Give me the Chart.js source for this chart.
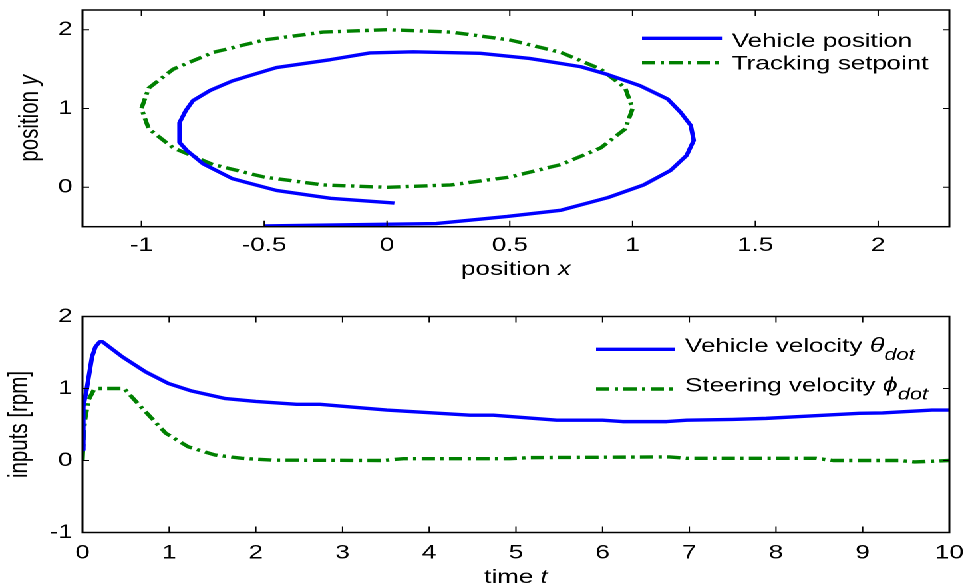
<!DOCTYPE html>
<html>
<head>
<meta charset="utf-8">
<script src="https://cdn.jsdelivr.net/npm/chart.js@4.4.1/dist/chart.umd.min.js"></script>
<style>
  html, body { margin: 0; padding: 0; background: #ffffff; width: 966px; height: 588px; overflow: hidden; }
  #wrap { position: absolute; left: 0; top: 0; width: 726px; height: 588px; transform: scaleX(1.330579); transform-origin: 0 0; }
  canvas { display: block; }
</style>
</head>
<body>
<div id="wrap">
  <canvas id="c1" width="726" height="294"></canvas>
  <canvas id="c2" width="726" height="294"></canvas>
</div>
<script>
// ---------- data: top panel (x-y path) ----------
const vehicleX = [-0.5, 0.2, 0.49, 0.71, 0.9, 1.045, 1.155, 1.22, 1.249, 1.237, 1.196, 1.143, 1.03, 0.9, 0.79, 0.58, 0.38, 0.107, -0.07, -0.23, -0.45, -0.63, -0.72, -0.79, -0.82, -0.845, -0.845, -0.816, -0.75, -0.63, -0.45, -0.23, 0.03];
const vehicleY = [-0.49, -0.46, -0.37, -0.29, -0.13, 0.03, 0.215, 0.405, 0.595, 0.785, 0.95, 1.12, 1.29, 1.43, 1.53, 1.635, 1.70, 1.72, 1.705, 1.62, 1.52, 1.35, 1.23, 1.10, 0.97, 0.82, 0.57, 0.47, 0.30, 0.11, -0.04, -0.14, -0.2];
const setpointX = [0, 0.26, 0.5, 0.71, 0.87, 0.97, 1, 0.97, 0.87, 0.71, 0.5, 0.26, 0, -0.26, -0.5, -0.71, -0.87, -0.97, -1, -0.97, -0.87, -0.71, -0.5, -0.26, 0];
const setpointY = [0, 0.03, 0.13, 0.29, 0.5, 0.74, 1, 1.26, 1.5, 1.71, 1.87, 1.97, 2, 1.97, 1.87, 1.71, 1.5, 1.26, 1, 0.74, 0.5, 0.29, 0.13, 0.03, 0];
const topXTicks = [-1, -0.5, 0, 0.5, 1, 1.5, 2];
const topYTicks = [0, 1, 2];

// ---------- data: bottom panel (inputs vs time) ----------
const timeVehicle = [0, 0.01, 0.05, 0.11, 0.15, 0.2, 0.23, 0.46, 0.73, 0.99, 1.26, 1.65, 2.0, 2.47, 2.74, 3.51, 4.47, 4.74, 5.47, 6.0, 6.23, 6.74, 6.97, 7.5, 7.89, 8.27, 8.96, 9.23, 9.8, 10];
const vehicleVel  = [0.15, 0.75, 1.0, 1.44, 1.58, 1.65, 1.65, 1.44, 1.23, 1.07, 0.965, 0.86, 0.82, 0.78, 0.78, 0.70, 0.63, 0.63, 0.56, 0.56, 0.54, 0.54, 0.56, 0.57, 0.585, 0.61, 0.655, 0.66, 0.70, 0.70];
const timeSteer = [0, 0.015, 0.035, 0.07, 0.13, 0.17, 0.48, 0.69, 0.96, 1.22, 1.53, 1.84, 2.2, 3.47, 3.7, 4.93, 5.16, 6.77, 6.97, 8.46, 8.66, 9.42, 9.6, 10];
const steerVel  = [0, 0.42, 0.61, 0.84, 0.98, 1.0, 1.0, 0.725, 0.38, 0.19, 0.076, 0.03, 0.005, 0.0, 0.025, 0.025, 0.04, 0.05, 0.03, 0.03, 0.0, 0.0, -0.02, 0];
const bottomXTicks = [0, 1, 2, 3, 4, 5, 6, 7, 8, 9, 10];
const bottomYTicks = [-1, 0, 1, 2];

// ---------- text ----------
const topLegend = [['Vehicle position', '', ''], ['Tracking setpoint', '', '']];
const bottomLegend = [['Vehicle velocity ', 'θ', 'dot'], ['Steering velocity ', 'ϕ', 'dot']];
const topXTitle = ['position ', 'x'];
const topYTitle = ['position ', 'y'];
const bottomXTitle = ['time ', 't'];
const bottomYTitle = ['inputs [rpm]', ''];

const BLUE = '#0000ff', GREEN = '#008000';
const FONT = '"Liberation Sans", Arial, Helvetica, sans-serif';
const FS = 19.5;
const DASH = [10, 4, 2.5, 4];
const LW = 3.4;

const zip = (xs, ys) => xs.map((v, i) => ({ x: v, y: ys[i] }));

function makeScales(xmin, xmax, xt, ymin, ymax, yt, xHeight, xPad) {
  const font = { family: FONT, size: FS };
  return {
    x: {
      type: 'linear', min: xmin, max: xmax,
      grid: { display: false, drawTicks: false }, border: { display: false },
      ticks: { font, color: '#000', padding: xPad, autoSkip: false, maxRotation: 0, minRotation: 0, callback: v => String(v) },
      afterBuildTicks: s => { s.ticks = xt.map(v => ({ value: v })); },
      afterFit: s => { s.height = xHeight; s.paddingLeft = 0; s.paddingRight = 0; }
    },
    y: {
      type: 'linear', min: ymin, max: ymax,
      grid: { display: false, drawTicks: false }, border: { display: false },
      ticks: { font, color: '#000', padding: 7.5, autoSkip: false, callback: v => String(v) },
      afterBuildTicks: s => { s.ticks = yt.map(v => ({ value: v })); },
      afterFit: s => { s.width = 62; s.paddingTop = 0; s.paddingBottom = 0; }
    }
  };
}

function drawMixed(ctx, parts, cx, cy, fs) {
  const fN = `${fs}px ${FONT}`, fI = `italic ${fs}px ${FONT}`;
  ctx.font = fN; const w1 = ctx.measureText(parts[0]).width;
  ctx.font = fI; const w2 = parts[1] ? ctx.measureText(parts[1]).width : 0;
  let x = cx - (w1 + w2) / 2;
  ctx.textAlign = 'left'; ctx.textBaseline = 'alphabetic';
  ctx.font = fN; ctx.fillText(parts[0], x, cy);
  if (parts[1]) { ctx.font = fI; ctx.fillText(parts[1], x + w1, cy); }
}

const framePlugin = {
  id: 'matlabFrame',
  afterDraw(chart, args, o) {
    const { ctx, chartArea: a, scales: { x, y } } = chart;
    ctx.save();
    ctx.strokeStyle = '#000';
    ctx.lineWidth = 1.5;
    ctx.strokeRect(a.left, a.top, a.right - a.left, a.bottom - a.top);
    ctx.lineWidth = 1;
    ctx.beginPath();
    x.ticks.forEach(t => {
      const p = x.getPixelForValue(t.value);
      ctx.moveTo(p, a.bottom); ctx.lineTo(p, a.bottom - 6);
      ctx.moveTo(p, a.top); ctx.lineTo(p, a.top + 6);
    });
    y.ticks.forEach(t => {
      const p = y.getPixelForValue(t.value);
      ctx.moveTo(a.left, p); ctx.lineTo(a.left + 5, p);
      ctx.moveTo(a.right, p); ctx.lineTo(a.right - 5, p);
    });
    ctx.stroke();

    ctx.fillStyle = '#000';
    drawMixed(ctx, o.xTitle, (a.left + a.right) / 2, o.xTitleY, FS);
    ctx.save();
    ctx.translate(o.yTitleX, (a.top + a.bottom) / 2);
    ctx.rotate(-Math.PI / 2);
    drawMixed(ctx, o.yTitle, 0, 0, FS + 1);
    ctx.restore();

    o.legend.forEach((item, i) => {
      const ds = chart.data.datasets[i];
      const ly = o.legLineY[i];
      ctx.save();
      ctx.strokeStyle = ds.borderColor;
      ctx.lineWidth = ds.borderWidth;
      ctx.setLineDash(ds.borderDash || []);
      ctx.beginPath();
      ctx.moveTo(o.legX0, ly); ctx.lineTo(o.legX1, ly);
      ctx.stroke();
      ctx.restore();
      const by = o.legTextY[i];
      let tx = o.legTextX;
      ctx.textAlign = 'left'; ctx.textBaseline = 'alphabetic';
      ctx.font = `${FS}px ${FONT}`;
      ctx.fillText(item[0], tx, by);
      tx += ctx.measureText(item[0]).width;
      if (item[1]) {
        ctx.font = `italic ${FS + 1}px ${FONT}`;
        ctx.fillText(item[1], tx, by);
        tx += ctx.measureText(item[1]).width;
      }
      if (item[2]) {
        ctx.font = `italic ${FS - 3}px ${FONT}`;
        ctx.fillText(item[2], tx, by + 8);
      }
    });
    ctx.restore();
  }
};

function lineDs(label, data, color, dash) {
  return {
    label, data, borderColor: color, backgroundColor: color, borderWidth: LW,
    borderDash: dash || [], pointRadius: 0, pointHoverRadius: 0, tension: 0,
    fill: false, borderJoinStyle: 'round', borderCapStyle: 'butt'
  };
}

new Chart(document.getElementById('c1'), {
  type: 'line',
  data: {
    datasets: [
      lineDs(topLegend[0][0], zip(vehicleX, vehicleY), BLUE),
      lineDs(topLegend[1][0], zip(setpointX, setpointY), GREEN, DASH)
    ]
  },
  options: {
    responsive: false, animation: false, devicePixelRatio: 2,
    layout: { padding: { left: 0, right: 12.5, top: 10, bottom: 0 } },
    scales: makeScales(-1.24, 2.29, topXTicks, -0.5, 2.25, topYTicks, 67.3, 7),
    plugins: {
      legend: { display: false }, tooltip: { enabled: false },
      matlabFrame: {
        xTitle: topXTitle, xTitleY: 275, yTitle: topYTitle, yTitleX: 28.5,
        legend: topLegend, legX0: 482.5, legX1: 542.6, legLineY: [38.3, 62.7],
        legTextX: 550.1, legTextY: [47, 69.5]
      }
    }
  },
  plugins: [framePlugin]
});

new Chart(document.getElementById('c2'), {
  type: 'line',
  data: {
    datasets: [
      lineDs('Vehicle velocity', zip(timeVehicle, vehicleVel), BLUE),
      lineDs('Steering velocity', zip(timeSteer, steerVel), GREEN, DASH)
    ]
  },
  options: {
    responsive: false, animation: false, devicePixelRatio: 2,
    layout: { padding: { left: 0, right: 12.5, top: 22.5, bottom: 0 } },
    scales: makeScales(0, 10, bottomXTicks, -1, 2, bottomYTicks, 55.5, 9),
    plugins: {
      legend: { display: false }, tooltip: { enabled: false },
      matlabFrame: {
        xTitle: bottomXTitle, xTitleY: 289, yTitle: bottomYTitle, yTitleX: 20.7,
        legend: bottomLegend, legX0: 448, legX1: 507.3, legLineY: [55.3, 95],
        legTextX: 514.8, legTextY: [58, 97.7]
      }
    }
  },
  plugins: [framePlugin]
});
</script>
</body>
</html>
